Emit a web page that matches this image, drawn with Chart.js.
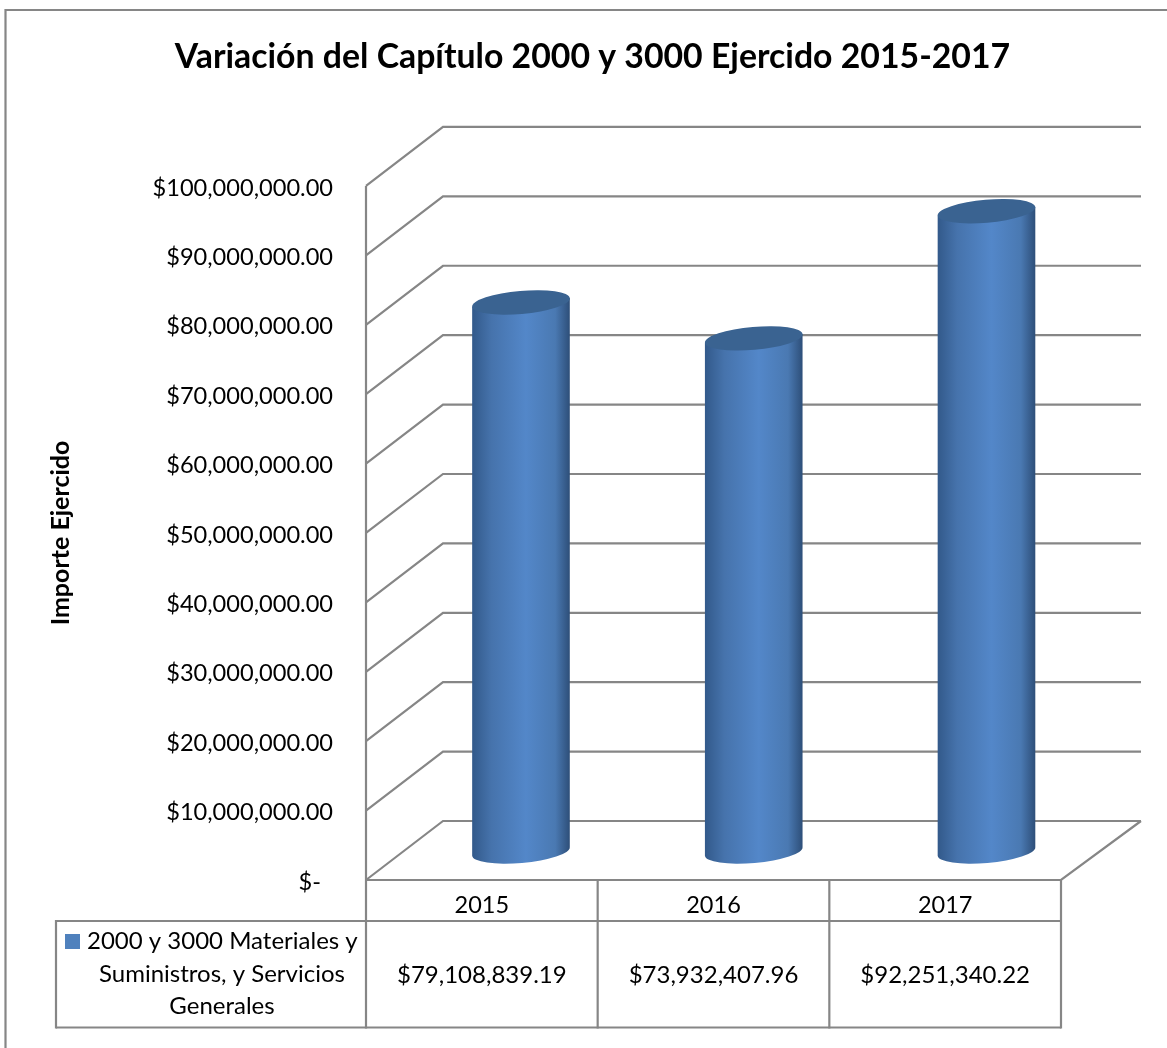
<!DOCTYPE html>
<html>
<head>
<meta charset="utf-8">
<title>Variación del Capítulo 2000 y 3000</title>
<script src="https://cdn.jsdelivr.net/npm/chart.js@4/dist/chart.umd.min.js"></script>
<style>
  html, body { margin: 0; padding: 0; background: #fff; }
  #wrap { width: 1167px; height: 1048px; }
</style>
</head>
<body>
<div id="wrap"><canvas id="gastoChart"></canvas></div>
<script>
    // Datos de la gráfica
    const categorias = ['2015', '2016', '2017'];
    const importes = [79108839.19, 73932407.96, 92251340.22];
    const serieLineas = ['2000 y 3000 Materiales y', 'Suministros, y Servicios', 'Generales'];
    const tituloGrafica = 'Variación del Capítulo 2000 y 3000 Ejercido 2015-2017';
    const tituloEjeY = 'Importe Ejercido';

    const FUENTE = 'Lato, "Noto Sans", sans-serif';
    const GRIS = '#868686';
    const AZUL = '#4F81BD';

    // Desplazamiento de la pared del fondo respecto al plano frontal
    const FONDO_X = 77, FONDO_Y = 59;
    // Los cilindros quedan a media profundidad, con un poco de perspectiva en x
    const CIL_X = 38.6, CIL_Y = 28.5, CIL_ESCALA = 1.0047;
    const CIL_RY = 11.5, CIL_ROT = -5 * Math.PI / 180;

    const moneda = v => '$' + v.toLocaleString('en-US', { minimumFractionDigits: 2, maximumFractionDigits: 2 });

    function linea(ctx, puntos) {
        ctx.beginPath();
        puntos.forEach((p, i) => i ? ctx.lineTo(p[0], p[1]) : ctx.moveTo(p[0], p[1]));
        ctx.stroke();
    }

    // Marco exterior, paredes y tabla de datos
    const marcoPlugin = {
        id: 'marco',
        beforeDatasetsDraw(chart) {
            const { ctx, scales: { x, y } } = chart;
            const area = chart.chartArea;
            ctx.save();
            ctx.strokeStyle = GRIS;
            ctx.lineWidth = 2.2;

            // marco de la gráfica
            linea(ctx, [[5.5, 1050], [5.5, 10], [1170, 10]]);

            // líneas de división: pared lateral y pared del fondo
            y.ticks.forEach(t => {
                const py = y.getPixelForValue(t.value);
                linea(ctx, [[area.left, py], [area.left + FONDO_X, py - FONDO_Y], [area.right + FONDO_X + 3, py - FONDO_Y]]);
            });
            // piso
            linea(ctx, [[area.left, area.bottom], [area.right, area.bottom], [area.right + FONDO_X + 3, area.bottom - FONDO_Y]]);
            // eje vertical
            linea(ctx, [[area.left, area.top], [area.left, area.bottom]]);

            // tabla de datos
            const filaA = 921, filaB = 1027.5, izq = 56;
            linea(ctx, [[izq, filaA], [area.right, filaA]]);
            linea(ctx, [[izq, filaB], [area.right, filaB]]);
            linea(ctx, [[izq, filaA - 1], [izq, filaB + 1]]);
            const cortes = categorias.map((c, i) => x.getPixelForValue(i) - (x.getPixelForValue(1) - x.getPixelForValue(0)) / 2);
            cortes.concat(area.right).forEach(cx => linea(ctx, [[cx, area.bottom], [cx, filaB + 1]]));

            // leyenda dentro de la tabla
            ctx.fillStyle = AZUL;
            ctx.fillRect(65, 934, 15, 15);

            ctx.fillStyle = '#000';
            ctx.font = '24px ' + FUENTE;
            ctx.textBaseline = 'middle';
            ctx.textAlign = 'left';
            ctx.fillText(serieLineas[0], 87, 941);
            ctx.textAlign = 'center';
            ctx.fillText(serieLineas[1], 222, 974);
            ctx.fillText(serieLineas[2], 222, 1006);
            importes.forEach((v, i) => ctx.fillText(moneda(v), x.getPixelForValue(i), 975));
            ctx.restore();
        },
        // El título va centrado sobre el conjunto de la gráfica, no sobre el plano frontal
        afterLayout(chart) {
            chart.titleBlock.left += 62;
            chart.titleBlock.right += 62;
        }
    };

    // Cada barra se pinta como cilindro a partir de su elemento
    const cilindroPlugin = {
        id: 'cilindro',
        beforeDatasetDraw(chart, args) {
            const { ctx, chartArea } = chart;
            chart.getDatasetMeta(args.index).data.forEach(el => {
                const p = el.getProps(['x', 'y', 'base', 'width'], true);
                const cx = chartArea.left + (p.x - chartArea.left) * CIL_ESCALA + CIL_X;
                const top = p.y - CIL_Y, base = p.base - CIL_Y;
                const rx = p.width / 2;
                const dx = rx * Math.cos(CIL_ROT), dy = rx * Math.sin(CIL_ROT);

                const g = ctx.createLinearGradient(cx - rx, 0, cx + rx, 0);
                g.addColorStop(0, '#32598A');
                g.addColorStop(0.2, '#4673AC');
                g.addColorStop(0.55, '#5387C9');
                g.addColorStop(0.85, '#4A79B2');
                g.addColorStop(1, '#2D4E78');

                ctx.save();
                ctx.fillStyle = g;
                ctx.beginPath();
                ctx.moveTo(cx - dx, top - dy);
                ctx.lineTo(cx - dx, base - dy);
                ctx.ellipse(cx, base, rx, CIL_RY, CIL_ROT, Math.PI, 0, true);
                ctx.lineTo(cx + dx, top + dy);
                ctx.closePath();
                ctx.fill();

                ctx.fillStyle = '#3A6391';
                ctx.beginPath();
                ctx.ellipse(cx, top, rx, CIL_RY, CIL_ROT, 0, Math.PI * 2);
                ctx.fill();
                ctx.restore();
            });
            return false;
        }
    };

    new Chart(document.getElementById('gastoChart').getContext('2d'), {
        type: 'bar',
        data: {
            labels: categorias,
            datasets: [{
                label: serieLineas.join(' '),
                data: importes,
                backgroundColor: AZUL,
                barThickness: 98
            }]
        },
        options: {
            responsive: true,
            maintainAspectRatio: false,
            animation: false,
            layout: { padding: { right: 106 } },
            plugins: {
                legend: { display: false },
                tooltip: { enabled: false },
                title: {
                    display: true,
                    text: tituloGrafica,
                    color: '#000',
                    font: { family: FUENTE, size: 33.8, weight: 'bold', lineHeight: 1.2 },
                    padding: { top: 37, bottom: 108.4 }
                }
            },
            scales: {
                x: {
                    grid: { display: false },
                    border: { display: false },
                    ticks: { color: '#000', padding: 3, font: { family: FUENTE, size: 23.5 } },
                    afterFit(scale) { scale.height = 168; }
                },
                y: {
                    min: 0,
                    max: 100000000,
                    grid: { display: false },
                    border: { display: false },
                    ticks: {
                        stepSize: 10000000,
                        color: '#000',
                        padding: 25,
                        labelOffset: 2,
                        font: { family: FUENTE, size: 23.6 },
                        callback: v => v === 0 ? '$-  ' : moneda(v)
                    },
                    title: {
                        display: true,
                        text: tituloEjeY,
                        color: '#000',
                        font: { family: FUENTE, size: 25, weight: 'bold' },
                        padding: { top: 46, bottom: 0 }
                    },
                    afterFit(scale) { scale.width = 366; }
                }
            }
        },
        plugins: [marcoPlugin, cilindroPlugin]
    });
</script>
</body>
</html>
